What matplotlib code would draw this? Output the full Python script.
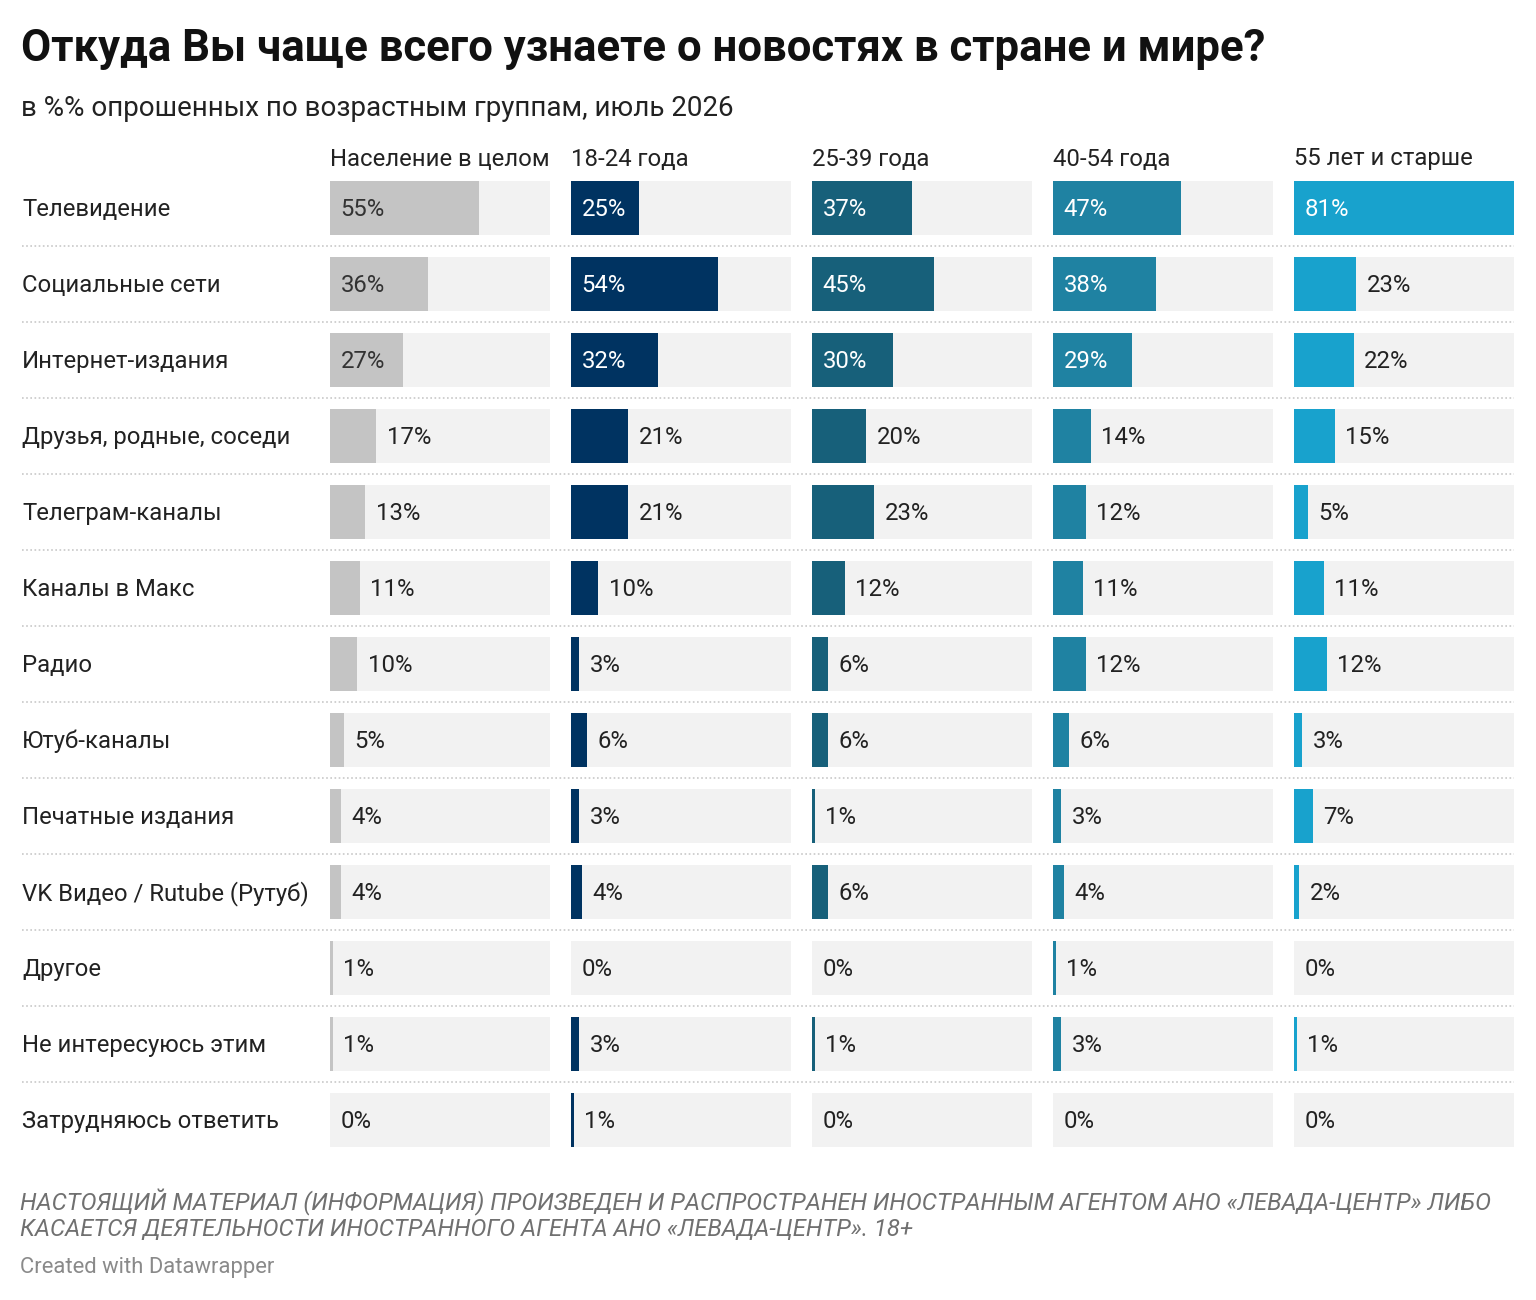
import matplotlib
matplotlib.use('Agg')
import matplotlib.pyplot as plt

plt.rcParams['font.family'] = ['Roboto', 'DejaVu Sans']

categories = ['Телевидение', 'Социальные сети', 'Интернет-издания',
              'Друзья, родные, соседи', 'Телеграм-каналы', 'Каналы в Макс',
              'Радио', 'Ютуб-каналы', 'Печатные издания',
              'VK Видео / Rutube (Рутуб)', 'Другое', 'Не интересуюсь этим',
              'Затрудняюсь ответить']
groups = ['Население в целом', '18-24 года', '25-39 года', '40-54 года',
          '55 лет и старше']
total = [55, 36, 27, 17, 13, 11, 10, 5, 4, 4, 1, 1, 0]
age_18_24 = [25, 54, 32, 21, 21, 10, 3, 6, 3, 4, 0, 3, 1]
age_25_39 = [37, 45, 30, 20, 23, 12, 6, 6, 1, 6, 0, 1, 0]
age_40_54 = [47, 38, 29, 14, 12, 11, 12, 6, 3, 4, 1, 3, 0]
age_55 = [81, 23, 22, 15, 5, 11, 12, 3, 7, 2, 0, 1, 0]

series = [total, age_18_24, age_25_39, age_40_54, age_55]
colors = ['#c4c4c4', '#003361', '#17607a', '#1f82a2', '#18a2cd']
text_inside = ['#333333', 'white', 'white', 'white', 'white']

W, H = 1536, 1300
fig = plt.figure(figsize=(W / 100, H / 100), dpi=100)
fig.patch.set_facecolor('white')

# overlay axes in pixel coordinates for text and separators
bg = fig.add_axes([0, 0, 1, 1])
bg.set_xlim(0, W)
bg.set_ylim(H, 0)
bg.axis('off')

bg.text(21, 49, 'Откуда Вы чаще всего узнаете о новостях в стране и мире?',
        fontsize=31.5, fontweight='bold', va='center', ha='left', color='#111111')
bg.text(21, 108, 'в %% опрошенных по возрастным группам, июль 2026',
        fontsize=20, va='center', ha='left', color='#222222')

fs = 17.2
n = len(categories)
row_top, step = 170, 76
for i, c in enumerate(categories):
    bg.text(22, row_top + step / 2 + i * step + 1.5, c, fontsize=fs,
            va='center', ha='left', color='#222222')
for i in range(1, n):
    y = row_top + i * step
    bg.plot([22, 1514], [y, y], color='#c8c8c8', lw=1.2, ls=(0, (1, 1.5)))

bg.text(20, 1202, 'НАСТОЯЩИЙ МАТЕРИАЛ (ИНФОРМАЦИЯ) ПРОИЗВЕДЕН И РАСПРОСТРАНЕН '
        'ИНОСТРАННЫМ АГЕНТОМ АНО «ЛЕВАДА-ЦЕНТР» ЛИБО',
        fontsize=17.2, style='italic', color='#707070', va='center')
bg.text(20, 1230, 'КАСАЕТСЯ ДЕЯТЕЛЬНОСТИ ИНОСТРАННОГО АГЕНТА АНО «ЛЕВАДА-ЦЕНТР». 18+',
        fontsize=17.2, style='italic', color='#707070', va='center')
bg.text(20, 1268, 'Created with Datawrapper', fontsize=15.8, color='#8a8a8a',
        va='center')

vmax = max(max(s) for s in series)
panel_w = 220
for k, (g, vals) in enumerate(zip(groups, series)):
    x0 = 330 + 241 * k
    bg.text(x0, 159, g, fontsize=fs, va='center', ha='left', color='#222222')
    ax = fig.add_axes([x0 / W, 1 - (row_top + n * step) / H,
                       panel_w / W, n * step / H])
    ax.set_xlim(0, vmax)
    ax.set_ylim(n - 0.5, -0.5)
    ax.axis('off')
    ys = list(range(n))
    ax.barh(ys, [vmax] * n, height=54 / step, color='#f2f2f2', lw=0)
    ax.barh(ys, vals, height=54 / step, color=colors[k], lw=0)
    for y, v in zip(ys, vals):
        if v >= 24:
            ax.annotate(f'{v}%', xy=(0, y), xytext=(7.5, -1),
                        textcoords='offset points', va='center', ha='left',
                        fontsize=fs, color=text_inside[k])
        else:
            ax.annotate(f'{v}%', xy=(v, y), xytext=(7.5, -1),
                        textcoords='offset points', va='center', ha='left',
                        fontsize=fs, color='#222222')

fig.savefig('out.png', dpi=100, facecolor='white')
